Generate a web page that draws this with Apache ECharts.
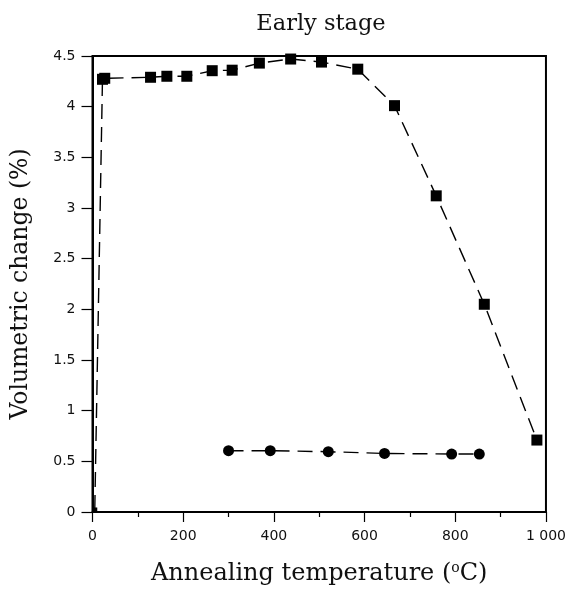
<!DOCTYPE html>
<html>
<head>
<meta charset="utf-8">
<script src="https://cdn.jsdelivr.net/npm/echarts@6/dist/echarts.min.js"></script>
<style>html,body{margin:0;padding:0;background:#fff}#c{width:569px;height:592px}</style>
</head>
<body>
<div id="c"></div>
<script>
// Data
const squareX = [5, 22, 27, 128, 164, 208, 264, 308, 368, 437, 505, 585, 666, 758, 864, 980];
const squareY = [0.02, 4.27, 4.28, 4.29, 4.30, 4.30, 4.355, 4.36, 4.43, 4.47, 4.44, 4.37, 4.01, 3.12, 2.05, 0.71];
const circleX = [300, 392, 520, 644, 792, 853];
const circleY = [0.605, 0.605, 0.595, 0.578, 0.572, 0.572];
const xTicks = [0, 200, 400, 600, 800, 1000];
const yTicks = [0, 0.5, 1, 1.5, 2, 2.5, 3, 3.5, 4, 4.5];
const titleText = 'Early stage';
const xName = 'Annealing temperature';
const yName = 'Volumetric change (%)';

const chart = echarts.init(document.getElementById('c'), null, {renderer: 'canvas'});
const serif = '"DejaVu Serif", "Liberation Serif", serif';
const sans = '"DejaVu Sans", "Noto Sans", sans-serif';
const dash = [15, 8];

chart.setOption({
  animation: false,
  backgroundColor: '#fff',
  title: {
    text: titleText, left: 316, top: 8, textAlign: 'center',
    textStyle: {fontFamily: serif, fontSize: 22.5, fontWeight: 'normal', color: '#111'}
  },
  grid: {left: 92.5, right: 19.5, top: 56, bottom: 80, show: true, borderColor: '#000', borderWidth: 2, backgroundColor: 'transparent'},
  xAxis: {
    type: 'value', min: xTicks[0], max: xTicks[xTicks.length - 1], interval: 200,
    splitLine: {show: false},
    axisLine: {lineStyle: {color: '#000', width: 2}},
    axisTick: {length: 10, lineStyle: {color: '#000', width: 1.2}},
    minorTick: {show: true, splitNumber: 2, length: 5, lineStyle: {color: '#000', width: 1.2}},
    axisLabel: {
      margin: 17, color: '#111', fontFamily: sans, fontSize: 14,
      formatter: v => v >= 1000 ? String(v).replace(/\B(?=(\d{3})+(?!\d))/g, ' ') : String(v)
    },
    name: '{n|' + xName + ' (}{s|o}{n|C)}', nameLocation: 'middle', nameGap: 49,
    nameTextStyle: {
      rich: {
        n: {fontFamily: serif, fontSize: 24, color: '#111'},
        s: {fontFamily: serif, fontSize: 14, color: '#111', verticalAlign: 'top', padding: [0, 0, 12, 0]}
      }
    }
  },
  yAxis: {
    type: 'value', min: yTicks[0], max: yTicks[yTicks.length - 1], interval: 0.5,
    splitLine: {show: false},
    axisLine: {lineStyle: {color: '#000', width: 2}},
    axisTick: {length: 11, lineStyle: {color: '#000', width: 1.2}},
    axisLabel: {margin: 17, color: '#111', fontFamily: sans, fontSize: 14},
    name: yName, nameLocation: 'middle', nameGap: 60,
    nameTextStyle: {fontFamily: serif, fontSize: 23.5, color: '#111', padding: [0, 0, 0, 0]}
  },
  series: [
    {
      type: 'line', data: squareX.map((x, i) => [x, squareY[i]]),
      symbol: 'rect', symbolSize: (v, p) => p.dataIndex === 0 ? 5 : 11,
      itemStyle: {color: '#000'},
      lineStyle: {color: '#000', width: 1.4, type: dash},
      clip: false
    },
    {
      type: 'line', data: circleX.map((x, i) => [x, circleY[i]]),
      symbol: 'circle', symbolSize: 11,
      itemStyle: {color: '#000'},
      lineStyle: {color: '#000', width: 1.4, type: dash}
    }
  ]
});
</script>
</body>
</html>
